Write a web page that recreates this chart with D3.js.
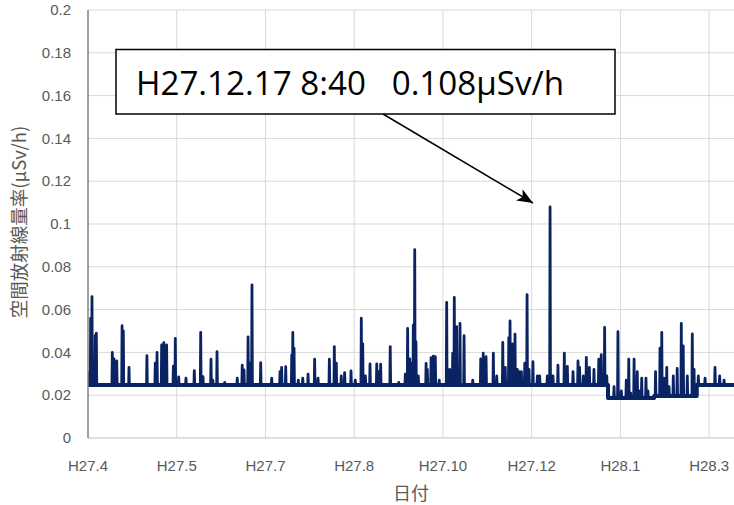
<!DOCTYPE html>
<html><head><meta charset="utf-8">
<script src="https://cdn.jsdelivr.net/npm/d3@7"></script>
<style>body{margin:0;background:#fff}</style>
</head><body>
<svg id="chart" width="734" height="505"></svg>
<script>
// ---- data ----
const startDate = new Date(2015, 3, 1);   // H27.4.1
const endDate = new Date(2016, 2, 30);
const tickDayOffsets = [0, 50, 100, 150, 200, 250, 300, 350];
const tickLabels = ["H27.4", "H27.5", "H27.7", "H27.8", "H27.10", "H27.12", "H28.1", "H28.3"];
const yTickValues = [0, 0.02, 0.04, 0.06, 0.08, 0.1, 0.12, 0.14, 0.16, 0.18, 0.2];
const yTickLabels = ["0", "0.02", "0.04", "0.06", "0.08", "0.1", "0.12", "0.14", "0.16", "0.18", "0.2"];
// baseline level (days since H27.4.1)
const baseDays = [0, 293, 319, 343];
const baseValues = [0.0248, 0.0187, 0.0196, 0.0248];
// peaks (days since H27.4.1)
const spikeDays = [0.3, 1.5, 2.25, 4.1, 4.7, 13.7, 14.65, 16.2, 19.2, 19.9, 23.1, 33.2, 37.9, 38.9, 41.5, 42.7, 44.3, 48.1, 49.2, 51.1,
  55.2, 59.9, 63.5, 64.8, 69.3, 70.3, 72.7, 77.0, 84.1, 86.9, 87.9, 90.2, 91.3, 92.4, 97.3, 103.5, 108.2, 109.1, 111.4, 114.8,
  115.4, 116.1, 118.5, 121.0, 124.0, 127.7, 129.6, 136.0, 138.8, 139.9, 142.7, 144.6, 148.2, 150.6, 154.0, 154.8, 156.3, 158.9, 162.7, 163.8,
  164.9, 170.3, 175.1, 178.8, 180.1, 181.3, 182.4, 183.3, 184.1, 184.8, 186.1, 190.5, 191.2, 193.3, 194.6, 195.7, 197.9, 202.1, 203.8, 205.5,
  206.4, 207.7, 209.6, 211.9, 216.8, 221.3, 222.7, 224.3, 228.4, 230.3, 233.7, 235.1, 237.1, 237.8, 239.1, 240.6, 241.9, 242.9, 244.2, 246.1,
  247.4, 248.5, 250.7, 253.2, 254.5, 258.8, 260.36, 262.0, 264.8, 268.4, 270.1, 273.3, 276.1, 277.0, 279.1, 280.8, 282.5, 285.1, 287.8, 289.2,
  291.1, 292.3, 296.4, 298.6, 300.5, 303.3, 304.7, 305.8, 307.7, 309.5, 310.5, 312.0, 314.4, 315.5, 319.8, 322.3, 323.3, 324.6, 326.1, 327.4,
  329.8, 332.0, 334.3, 335.4, 337.7, 340.5, 341.5, 343.9, 347.7, 353.3, 355.9, 358.4];
const spikeValues = [0.0305, 0.056, 0.066, 0.048, 0.049, 0.040, 0.037, 0.036, 0.0525, 0.050, 0.033, 0.0385, 0.035, 0.040, 0.0435, 0.0445, 0.0435, 0.0336, 0.0466, 0.0286,
  0.028, 0.0315, 0.0494, 0.0287, 0.0368, 0.027, 0.0403, 0.026, 0.028, 0.034, 0.0318, 0.0473, 0.035, 0.0715, 0.0352, 0.028, 0.031, 0.033, 0.0333, 0.0388,
  0.0494, 0.042, 0.027, 0.028, 0.0298, 0.0368, 0.028, 0.0368, 0.0427, 0.035, 0.029, 0.0305, 0.0313, 0.027, 0.056, 0.044, 0.029, 0.0346, 0.0346, 0.031,
  0.0345, 0.0427, 0.026, 0.0298, 0.0512, 0.037, 0.035, 0.0528, 0.088, 0.045, 0.029, 0.0349, 0.032, 0.0375, 0.0383, 0.038, 0.027, 0.0634, 0.032, 0.0396,
  0.0657, 0.052, 0.0536, 0.0478, 0.027, 0.037, 0.0396, 0.038, 0.0396, 0.029, 0.0447, 0.033, 0.0469, 0.0547, 0.044, 0.0485, 0.032, 0.031, 0.031, 0.035,
  0.067, 0.032, 0.0357, 0.029, 0.029, 0.029, 0.108, 0.029, 0.034, 0.0396, 0.0335, 0.031, 0.036, 0.033, 0.029, 0.0377, 0.033, 0.032, 0.0368, 0.0389,
  0.0517, 0.029, 0.024, 0.0497, 0.022, 0.027, 0.0369, 0.021, 0.0369, 0.031, 0.022, 0.028, 0.028, 0.022, 0.031, 0.042, 0.0494, 0.028, 0.033, 0.024,
  0.029, 0.0325, 0.0536, 0.043, 0.029, 0.0486, 0.032, 0.029, 0.028, 0.033, 0.029, 0.027];
const annotationText = "H27.12.17 8:40\u00a0\u00a0\u00a00.108μSv/h";
const yTitle = "空間放射線量率(μSv/h)";
const xTitle = "日付";

// ---- chart ----
const svg = d3.select("#chart");
const plotLeft = 88, plotRight = 734, plotTop = 10, plotBottom = 438;
const dayToDate = d => new Date(startDate.getTime() + d * 86400000);
const x = d3.scaleTime().domain([startDate, endDate]).range([plotLeft, plotRight]);
const y = d3.scaleLinear().domain([0, 0.2]).range([plotBottom, plotTop]);
const baseAt = d => { let v = baseValues[0]; baseDays.forEach((b, i) => { if (d >= b) v = baseValues[i]; }); return v; };

// baseline step series
let basePts = [];
baseDays.forEach((b, i) => {
  if (i > 0) basePts.push({d: b, v: baseValues[i - 1]});
  basePts.push({d: b, v: baseValues[i]});
});
basePts.push({d: 364, v: baseValues[baseValues.length - 1]});

// full series
let pts = basePts.slice();
spikeDays.forEach((d, i) => {
  const b = baseAt(d);
  pts.push({d: d - 0.22, v: b});
  pts.push({d: d, v: spikeValues[i]});
  pts.push({d: d + 0.22, v: b});
});
pts = pts.map((p, i) => ({...p, i})).sort((a, b) => a.d - b.d || a.i - b.i);

const defs = svg.append("defs");

// gridlines
const g = svg.append("g");
g.selectAll(".hg").data(yTickValues.filter(v => v > 0)).join("line")
  .attr("x1", plotLeft).attr("x2", plotRight).attr("y1", d => y(d)).attr("y2", d => y(d))
  .attr("stroke", "#d9d9d9").attr("stroke-width", 1);
g.selectAll(".vg").data(tickDayOffsets.slice(1)).join("line")
  .attr("x1", d => x(dayToDate(d))).attr("x2", d => x(dayToDate(d)))
  .attr("y1", plotTop).attr("y2", plotBottom)
  .attr("stroke", "#d9d9d9").attr("stroke-width", 1);
g.append("line").attr("x1", plotLeft).attr("x2", plotRight).attr("y1", plotBottom).attr("y2", plotBottom)
  .attr("stroke", "#bfbfbf").attr("stroke-width", 1);

// line
defs.append("clipPath").attr("id", "clip").append("rect")
  .attr("x", plotLeft).attr("y", plotTop - 5).attr("width", plotRight - plotLeft).attr("height", plotBottom - plotTop + 5);
const lineGen = d3.line().x(p => x(dayToDate(p.d))).y(p => y(p.v));
svg.append("path").datum(basePts)
  .attr("clip-path", "url(#clip)")
  .attr("d", lineGen)
  .attr("fill", "none").attr("stroke", "#0a2463").attr("stroke-width", 4)
  .attr("stroke-linejoin", "round");
svg.append("path").datum(pts)
  .attr("clip-path", "url(#clip)")
  .attr("d", lineGen)
  .attr("fill", "none").attr("stroke", "#0a2463").attr("stroke-width", 2.8)
  .attr("stroke-linejoin", "round").attr("stroke-linecap", "round");

// left axis line
svg.append("line").attr("x1", plotLeft).attr("x2", plotLeft).attr("y1", plotTop).attr("y2", plotBottom)
  .attr("stroke", "#808080").attr("stroke-width", 1.5);

// y tick labels
svg.append("g").selectAll("text").data(yTickValues).join("text")
  .attr("x", 71).attr("y", d => y(d)).attr("dy", "0.35em")
  .attr("text-anchor", "end")
  .attr("font-family", "Liberation Sans, Arial, sans-serif").attr("font-size", 15)
  .attr("fill", "#595959").text((d, i) => yTickLabels[i]);

// x tick labels
svg.append("g").selectAll("text").data(tickDayOffsets).join("text")
  .attr("x", d => x(dayToDate(d))).attr("y", 471)
  .attr("text-anchor", "middle")
  .attr("font-family", "Liberation Sans, Arial, sans-serif").attr("font-size", 15)
  .attr("fill", "#595959").text((d, i) => tickLabels[i]);

// axis titles
svg.append("text").attr("x", 411).attr("y", 500).attr("text-anchor", "middle")
  .attr("font-family", "Noto Sans CJK JP, sans-serif").attr("font-size", 18)
  .attr("fill", "#595959").text(xTitle);
svg.append("text").attr("transform", "translate(26,222) rotate(-90)").attr("text-anchor", "middle")
  .attr("font-family", "Noto Sans CJK JP, sans-serif").attr("font-size", 18.5)
  .attr("fill", "#595959").text(yTitle);

// annotation
defs.append("marker").attr("id", "arrow").attr("markerUnits", "userSpaceOnUse")
  .attr("markerWidth", 18).attr("markerHeight", 14).attr("refX", 16).attr("refY", 6.5)
  .attr("orient", "auto")
  .append("path").attr("d", "M0,0 L16,6.5 L0,13 L4,6.5 z").attr("fill", "#000");
svg.append("line").attr("x1", 383).attr("y1", 114).attr("x2", 533).attr("y2", 203)
  .attr("stroke", "#000").attr("stroke-width", 1.5).attr("marker-end", "url(#arrow)");
svg.append("rect").attr("x", 116).attr("y", 49.5).attr("width", 499).attr("height", 64.5)
  .attr("fill", "#fff").attr("stroke", "#000").attr("stroke-width", 1.5);
svg.append("text").attr("x", 136).attr("y", 95)
  .attr("font-family", "Open Sans, Noto Sans, sans-serif").attr("font-size", 33)
  .attr("textLength", 428).attr("lengthAdjust", "spacingAndGlyphs")
  .attr("fill", "#000").text(annotationText);
</script>
</body></html>
